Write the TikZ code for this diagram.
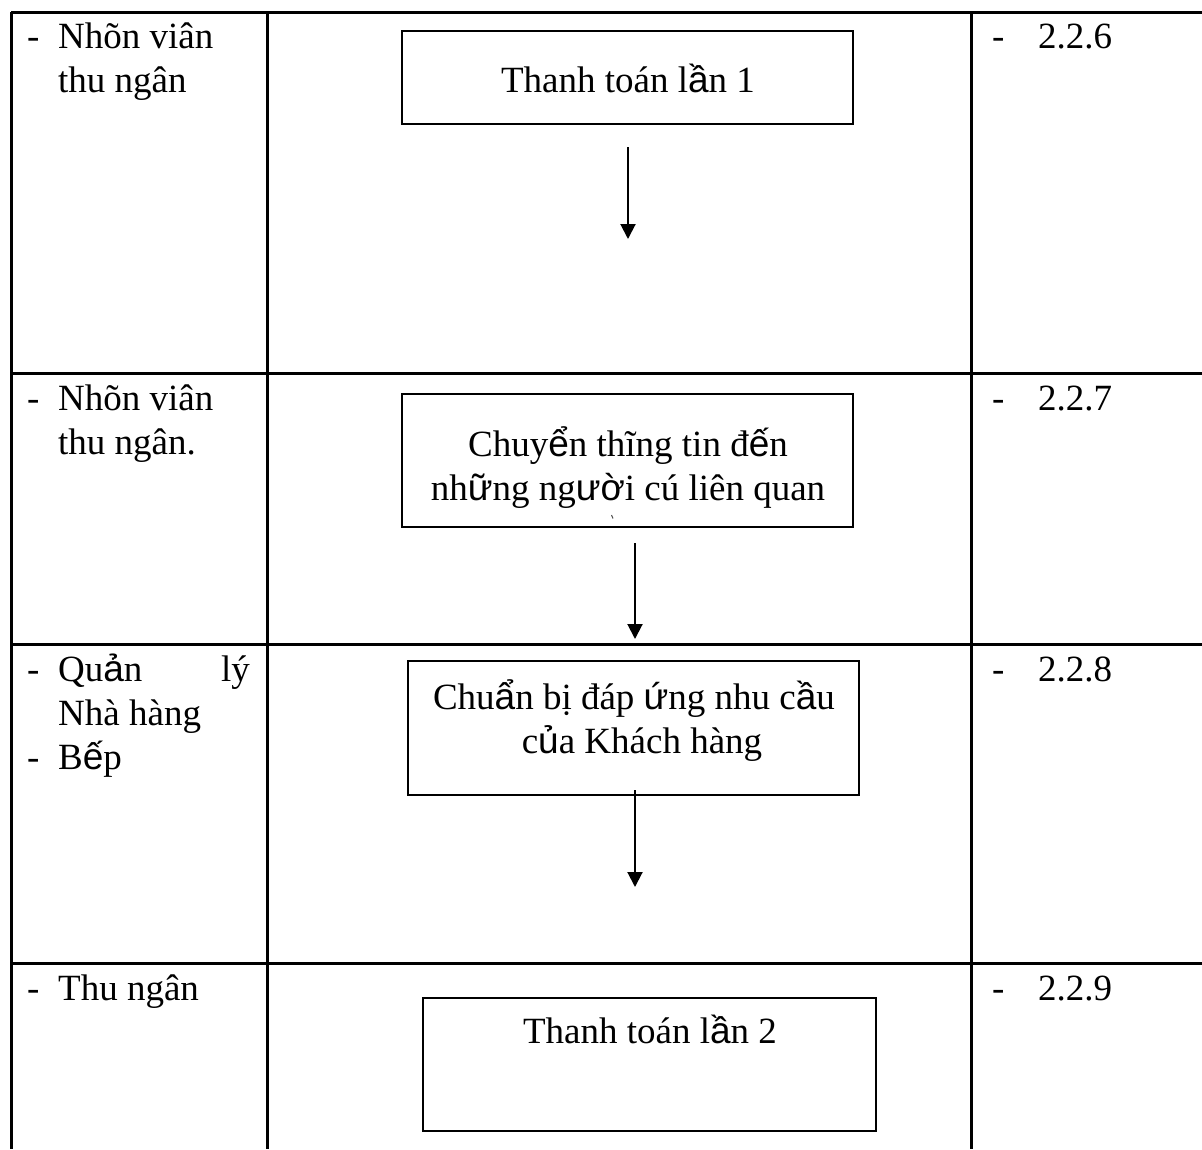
\documentclass[tikz,border=0pt]{standalone}
\usepackage{fontspec}
\setmainfont{Liberation Serif}
\newfontfamily\accfont{Liberation Sans}
\usetikzlibrary{arrows.meta}
% letters with stacked diacritics come from the sans fallback
\newcommand{\ac}[1]{{\accfont #1}}
\begin{document}
\begin{tikzpicture}[x=1pt,y=-1pt,
  grid/.style={line width=3pt,draw=black},
  stepbox/.style={draw,line width=2.6pt,rectangle,inner sep=0pt},
  txt/.style={inner sep=0pt,font=\fontsize{37}{44}\selectfont},
  flow/.style={line width=2pt,-{Triangle[length=15pt,width=15pt]}}]
\useasboundingbox (0,0) rectangle (1202,1149);

% table grid
\draw[grid] (11,12) -- (1202,12);
\draw[grid] (11,373) -- (1202,373);
\draw[grid] (11,644) -- (1202,644);
\draw[grid] (11,963) -- (1202,963);
\draw[grid] (11,12) -- (11,1149);
\draw[grid] (267,12) -- (267,1149);
\draw[grid] (971,12) -- (971,1149);

% left column: roles
\node[txt,anchor=base west] (d1) at (27,48) {-};
\node[txt,anchor=base west] (r1a) at (58,48) {Nhõn viân};
\node[txt,anchor=base west] (r1b) at (58,92) {thu ngân};
\node[txt,anchor=base west] (d2) at (27,410) {-};
\node[txt,anchor=base west] (r2a) at (58,410) {Nhõn viân};
\node[txt,anchor=base west] (r2b) at (58,454) {thu ngân.};
\node[txt,anchor=base west] (d3) at (27,681) {-};
\node[txt,anchor=base west] (r3a) at (58,681) {Qu\ac{ả}n};
\node[txt,anchor=base east] (r3c) at (250,681) {lý};
\node[txt,anchor=base west] (r3b) at (58,725) {Nhà hàng};
\node[txt,anchor=base west] (d4) at (27,769) {-};
\node[txt,anchor=base west] (r3d) at (58,769) {B\ac{ế}p};
\node[txt,anchor=base west] (d5) at (27,1000) {-};
\node[txt,anchor=base west] (r4a) at (58,1000) {Thu ngân};

% right column: step numbers
\node[txt,anchor=base west] (n1d) at (992,48) {-};
\node[txt,anchor=base west] (n1) at (1038,48) {2.2.6};
\node[txt,anchor=base west] (n2d) at (992,410) {-};
\node[txt,anchor=base west] (n2) at (1038,410) {2.2.7};
\node[txt,anchor=base west] (n3d) at (992,681) {-};
\node[txt,anchor=base west] (n3) at (1038,681) {2.2.8};
\node[txt,anchor=base west] (n4d) at (992,1000) {-};
\node[txt,anchor=base west] (n4) at (1038,1000) {2.2.9};

% process boxes
\node[stepbox,minimum width=451pt,minimum height=93pt] (b1) at (627.5,77.5) {};
\node[txt,anchor=base] (t1) at (628,92) {Thanh toán l\ac{ầ}n 1};

\node[stepbox,minimum width=451pt,minimum height=133pt] (b2) at (627.5,460.5) {};
\node[txt,anchor=base] (t2a) at (628,456) {Chuy\ac{ể}n thĩng tin đ\ac{ế}n};
\node[txt,anchor=base] (t2b) at (628,500) {nh\ac{ữ}ng ng\ac{ườ}i cú liên quan};
\draw[line width=1pt,black!70] (611.5,515) -- (613,518.5);

\node[stepbox,minimum width=451pt,minimum height=134pt] (b3) at (633.5,728) {};
\node[txt,anchor=base] (t3a) at (634,709) {Chu\ac{ẩ}n bị đáp \ac{ứ}ng nhu c\ac{ầ}u};
\node[txt,anchor=base] (t3b) at (642,753) {c\ac{ủ}a Khách hàng};

\node[stepbox,minimum width=453pt,minimum height=133pt] (b4) at (649.5,1064.5) {};
\node[txt,anchor=base] (t4) at (650,1043) {Thanh toán l\ac{ầ}n 2};

% arrows between steps
\coordinate (a1s) at (628,147);
\coordinate (a1e) at (628,239);
\coordinate (a2s) at (635,543);
\coordinate (a2e) at (635,639);
\coordinate (a3s) at (635,790);
\coordinate (a3e) at (635,887);
\draw[flow] (a1s) -- (a1e);
\draw[flow] (a2s) -- (a2e);
\draw[flow] (a3s) -- (a3e);
\end{tikzpicture}
\end{document}
